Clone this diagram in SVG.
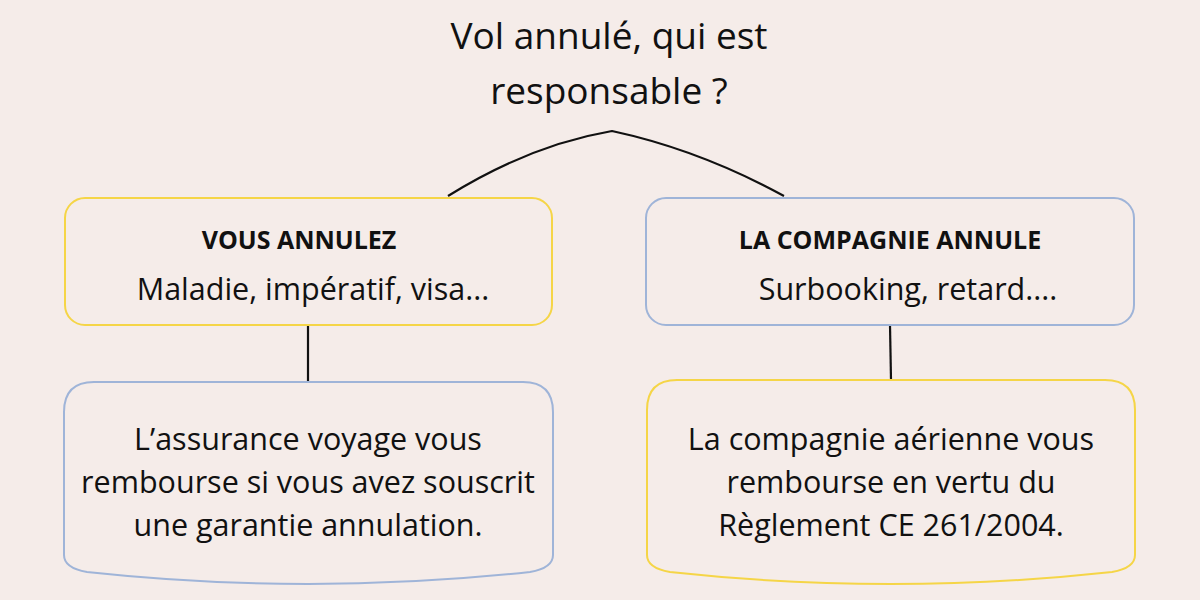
<svg xmlns="http://www.w3.org/2000/svg" width="1200" height="600" viewBox="0 0 1200 600">
<style>
text{font-family:"Open Sans","Liberation Sans",sans-serif;fill:#111;text-anchor:middle}
.t{font-size:37px}.b{font-size:25px;font-weight:bold}.m{font-size:30.5px}
.y{fill:none;stroke:#f5d547;stroke-width:2}.bl{fill:none;stroke:#9fb4d8;stroke-width:2}
.c{fill:none;stroke:#111;stroke-width:2.2}
</style>
<rect width="1200" height="600" fill="#f5ece9"/>
<g id="title"><text class="t" x="609" y="49">Vol annulé, qui est</text><text class="t" x="609" y="104">responsable ?</text></g>
<g id="connectors">
<path class="c" d="M448,196 Q530,145 612,131 Q700,150 784,196"/>
<line class="c" x1="308" y1="325" x2="308" y2="381"/>
<line class="c" x1="890" y1="325" x2="891" y2="380"/>
</g>
<g id="n1"><rect class="y" x="65" y="198" width="487" height="127" rx="20"/>
<text class="b" x="299" y="249">VOUS ANNULEZ</text><text class="m" x="313" y="300">Maladie, impératif, visa...</text></g>
<g id="n2"><rect class="bl" x="646" y="198" width="488" height="127" rx="20"/>
<text class="b" x="890" y="249">LA COMPAGNIE ANNULE</text><text class="m" x="908" y="300">Surbooking, retard....</text></g>
<g id="n3"><path class="bl" d="M64,555 V412 Q64,382 94,382 H523 Q553,382 553,412 V555 Q553,568 530,572 Q308,596 87,572 Q64,568 64,555 Z"/>
<text class="m" x="308" y="450">L’assurance voyage vous</text><text class="m" x="308" y="493">rembourse si vous avez souscrit</text><text class="m" x="308" y="536">une garantie annulation.</text></g>
<g id="n4"><path class="y" d="M647,555 V410 Q647,380 677,380 H1105 Q1135,380 1135,410 V555 Q1135,568 1112,572 Q891,596 670,572 Q647,568 647,555 Z"/>
<text class="m" x="891" y="450">La compagnie aérienne vous</text><text class="m" x="891" y="493">rembourse en vertu du</text><text class="m" x="891" y="536">Règlement CE 261/2004.</text></g>
</svg>
